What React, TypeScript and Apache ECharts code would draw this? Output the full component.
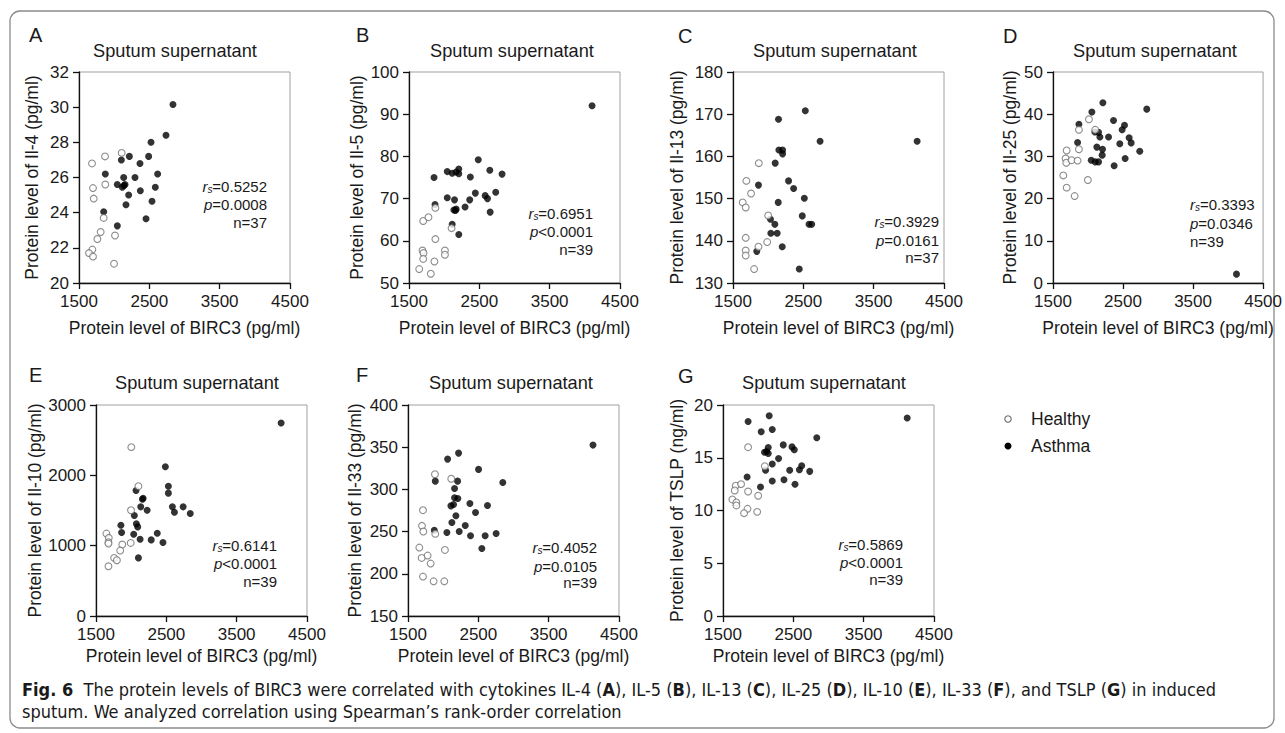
import React, { useEffect, useRef } from 'react';
import * as echarts from 'echarts';

const FONT = 'Arial, Liberation Sans, Helvetica, sans-serif';
const CAPTION_FONT = 'DejaVu Sans Condensed, DejaVu Sans, sans-serif';
const TEXT = '#1a1a1a';

const X_TICKS = [1500, 2500, 3500, 4500];
const X_NAME = 'Protein level of BIRC3 (pg/ml)';

const healthyA: number[][] = [[1685,26.8],[1870,27.2],[2107,27.4],[1874,25.6],[1699,25.4],[1709,24.8],[1851,23.7],[1808,22.9],[1761,22.5],[2012,22.7],[1690,21.9],[1642,21.7],[1699,21.5],[1998,21.1]];
const asthmaA: number[][] = [[2836,30.15],[2737,28.4],[2524,28.0],[2216,27.2],[2490,27.2],[2102,27.0],[2367,26.8],[1874,26.2],[2135,26.0],[2296,26.0],[2618,26.2],[2045,25.6],[2154,25.6],[2116,25.45],[2585,25.45],[2206,25.0],[2372,25.25],[2538,24.65],[2168,24.45],[1851,24.05],[2453,23.65],[2045,23.25],[2140,25.55]];

const healthyB: number[][] = [[1702,64.7],[1777,65.6],[1875,67.8],[2105,63.0],[1875,60.4],[1692,57.7],[1706,57.1],[1702,55.7],[1861,55.1],[2011,57.7],[2011,56.7],[1645,53.3],[1810,52.2]];
const asthmaB: number[][] = [[4103,92.0],[2485,79.2],[2208,77.0],[2208,75.9],[2044,76.4],[2114,76.0],[1856,75.0],[2372,75.1],[2649,76.7],[2823,75.8],[1870,68.6],[2044,70.2],[2147,69.7],[2297,68.0],[2363,69.7],[2443,71.3],[2583,70.7],[2616,70.0],[2733,71.5],[2654,66.8],[2138,67.3],[2171,67.5],[2114,63.9],[2208,61.5],[2170,76.3],[2160,67.2]];

const healthyC: number[][] = [[1867,158.4],[1690,154.2],[1757,151.2],[1638,149.1],[1681,147.9],[2000,146.0],[1681,140.7],[1681,137.7],[1681,136.5],[1862,138.6],[1986,139.7],[1800,133.3]];
const asthmaC: number[][] = [[2528,170.8],[2147,168.8],[2738,163.6],[4118,163.6],[2152,161.5],[2205,161.5],[2205,160.6],[2100,158.4],[1862,153.2],[2290,154.2],[2362,152.4],[2514,150.1],[2143,149.1],[2485,145.9],[2033,145.1],[2095,143.9],[2581,143.9],[2619,143.9],[2038,141.8],[2128,141.8],[2200,138.6],[1838,137.5],[2442,133.3]];

const healthyD: number[][] = [[2013,38.8],[2103,36.3],[1870,36.3],[1695,31.4],[1870,31.7],[1680,29.5],[1690,28.5],[1766,29.1],[1851,29.0],[1647,25.5],[1695,22.6],[1998,24.4],[1809,20.6]];
const asthmaD: number[][] = [[2212,42.7],[2055,40.5],[2839,41.2],[1870,37.6],[2364,38.5],[2521,37.4],[2487,36.3],[2098,35.8],[2150,35.7],[2169,34.6],[2293,34.6],[2587,34.4],[2616,33.2],[2454,33.0],[1851,33.3],[2126,32.2],[2207,31.7],[2739,31.2],[2202,30.3],[2046,29.1],[2103,28.7],[2150,28.7],[2530,29.5],[2373,27.8],[4120,2.1]];

const healthyE: number[][] = [[2002,2401],[2103,1846],[1998,1504],[1648,1172],[1682,1111],[1677,1050],[1677,1030],[1873,1016],[1993,1039],[1844,930],[1758,826],[1797,793],[1677,707]];
const asthmaE: number[][] = [[4132,2743],[2486,2121],[2529,1846],[2529,1747],[2069,1785],[2170,1675],[2136,1552],[2586,1552],[2615,1476],[2739,1552],[2840,1457],[2227,1504],[2045,1429],[1854,1291],[1864,1187],[2074,1310],[2093,1267],[2036,1163],[2371,1177],[2127,1092],[2285,1082],[2452,1044],[2103,826],[2160,1660]];

const healthyF: number[][] = [[1883,318],[2115,312.6],[1713,275.4],[1699,256.8],[1718,250.1],[1888,247.3],[1661,231.1],[1779,221.6],[1694,218.8],[1822,212.1],[2025,228.3],[1713,196.7],[1864,191.1],[2016,191.1]];
const asthmaF: number[][] = [[4130,352.5],[2219,343],[2063,335.9],[2503,323.7],[1888,309.8],[2205,309.8],[2848,308.2],[2162,301.1],[2162,290],[2209,289.2],[2380,283.3],[2110,280.5],[2148,282],[2630,281],[2460,272.6],[2181,268.7],[2124,260.8],[2314,257.2],[1874,251.7],[2053,248.9],[2228,250.1],[2389,245],[2597,245],[2753,247.7],[2550,229.9]];

const healthyG: number[][] = [[1857,16.0],[2095,14.2],[1681,12.35],[1757,12.5],[1667,11.9],[1857,11.8],[2000,11.4],[1633,11.05],[1690,10.76],[1690,10.48],[1848,10.16],[1800,9.75],[1986,9.87]];
const asthmaG: number[][] = [[4119,18.76],[1857,18.44],[2157,18.98],[2043,17.46],[2200,17.68],[2833,16.89],[2357,16.22],[2481,16.03],[2514,15.75],[2143,15.97],[2119,15.59],[2090,15.52],[2143,15.4],[2290,14.92],[2200,14.41],[2619,14.25],[2586,13.87],[2448,13.81],[2105,13.81],[2733,13.71],[1843,13.17],[2367,12.92],[2200,12.79],[2524,12.48],[2033,12.22]];

const panelLetters = ['A', 'B', 'C', 'D', 'E', 'F', 'G'];
const yNames = [
  'Protein level of Il-4 (pg/ml)',
  'Protein level of Il-5 (pg/ml)',
  'Protein level of Il-13 (pg/ml)',
  'Protein level of Il-25 (pg/ml)',
  'Protein level of Il-10 (pg/ml)',
  'Protein level of Il-33 (pg/ml)',
  'Protein level of TSLP (ng/ml)',
];
const yRanges = [[20, 32, 2], [50, 100, 10], [130, 180, 10], [0, 50, 10], [0, 3000, 1000], [150, 400, 50], [0, 20, 5]];
const rsValues = ['0.5252', '0.6951', '0.3929', '0.3393', '0.6141', '0.4052', '0.5869'];
const pValues = ['=0.0008', '<0.0001', '=0.0161', '=0.0346', '<0.0001', '=0.0105', '<0.0001'];
const nValues = ['37', '39', '37', '39', '39', '39', '39'];
const healthySets = [healthyA, healthyB, healthyC, healthyD, healthyE, healthyF, healthyG];
const asthmaSets = [asthmaA, asthmaB, asthmaC, asthmaD, asthmaE, asthmaF, asthmaG];

// layout (pixels)
const layout = [
  { left: 79, top: 72, yGap: 38, xGap: 36, letter: [29, 35], title: [175, 51], stats: { x: 267, y: [186, 204, 222], align: 'right' } },
  { left: 409, top: 72, yGap: 43, xGap: 36, letter: [356, 35], title: [512, 51], stats: { x: 593, y: [213, 231, 249], align: 'right' } },
  { left: 733, top: 72, yGap: 47, xGap: 36, letter: [678, 36], title: [835, 51], stats: { x: 939, y: [221, 240, 257], align: 'right' } },
  { left: 1053, top: 72, yGap: 34, xGap: 36, letter: [1003, 36], title: [1155, 51], stats: { x: 1190, y: [204, 223, 241], align: 'left' } },
  { left: 96, top: 405, yGap: 52, xGap: 31, letter: [29, 375], title: [197, 383], stats: { x: 277, y: [545, 563, 581], align: 'right' } },
  { left: 408, top: 405, yGap: 44, xGap: 31, letter: [356, 375], title: [511, 383], stats: { x: 597, y: [547, 566, 582], align: 'right' } },
  { left: 723, top: 405, yGap: 37, xGap: 31, letter: [678, 376], title: [824, 383], stats: { x: 903, y: [544, 562, 579], align: 'right' } },
];

const plain = (v: number) => String(v);

function buildOption() {
  const grid: any[] = [];
  const xAxis: any[] = [];
  const yAxis: any[] = [];
  const series: any[] = [];
  const graphic: any[] = [];

  graphic.push({
    type: 'rect', z: 0, silent: true,
    shape: { x: 10, y: 11, width: 1264, height: 717, r: 10 },
    style: { fill: 'none', stroke: '#8c8c8c', lineWidth: 1.3 },
  });

  layout.forEach((L, i) => {
    const [yMin, yMax, yInt] = yRanges[i];
    grid.push({
      left: L.left, top: L.top, width: 211, height: 211,
      show: true, borderColor: '#a0a0a0', borderWidth: 1, backgroundColor: 'transparent',
    });
    xAxis.push({
      gridIndex: i, type: 'value', min: 1500, max: 4500,
      name: X_NAME, nameLocation: 'middle', nameGap: L.xGap,
      nameTextStyle: { fontSize: 17.5, color: TEXT, fontFamily: FONT },
      axisLine: { show: true, onZero: false, lineStyle: { color: '#111', width: 1.3 } },
      axisTick: { show: true, length: 6, customValues: X_TICKS, lineStyle: { color: '#111', width: 1.3 } },
      axisLabel: { customValues: X_TICKS, formatter: plain, fontSize: 17, color: TEXT, margin: 10, fontFamily: FONT },
      splitLine: { show: false },
    });
    yAxis.push({
      gridIndex: i, type: 'value', min: yMin, max: yMax, interval: yInt,
      name: yNames[i], nameLocation: 'middle', nameGap: L.yGap, nameRotate: 90,
      nameTextStyle: { fontSize: 17.5, color: TEXT, fontFamily: FONT },
      axisLine: { show: true, onZero: false, lineStyle: { color: '#111', width: 1.3 } },
      axisTick: { show: true, length: 6, lineStyle: { color: '#111', width: 1.3 } },
      axisLabel: { formatter: plain, fontSize: 17, color: TEXT, margin: 10, fontFamily: FONT },
      splitLine: { show: false },
    });
    series.push({
      type: 'scatter', name: 'Asthma', xAxisIndex: i, yAxisIndex: i,
      data: asthmaSets[i], symbol: 'circle', symbolSize: 7,
      itemStyle: { color: '#000' }, silent: true,
    });
    series.push({
      type: 'scatter', name: 'Healthy', xAxisIndex: i, yAxisIndex: i,
      data: healthySets[i], symbol: 'circle', symbolSize: 6.8,
      itemStyle: { color: '#fff', borderColor: '#6f6f6f', borderWidth: 1.1 }, silent: true,
    });

    graphic.push({
      type: 'text', x: L.letter[0], y: L.letter[1], silent: true,
      style: { text: panelLetters[i], fontSize: 20, fontFamily: FONT, fill: TEXT, align: 'left', verticalAlign: 'middle' },
    });
    graphic.push({
      type: 'text', x: L.title[0], y: L.title[1], silent: true,
      style: { text: 'Sputum supernatant', fontSize: 18.2, fontFamily: FONT, fill: TEXT, align: 'center', verticalAlign: 'middle' },
    });
    const rich = {
      i: { fontStyle: 'italic', fontSize: 15, fontFamily: FONT, fill: TEXT, lineHeight: 16 },
      s: { fontStyle: 'italic', fontSize: 10, fontFamily: FONT, fill: TEXT, verticalAlign: 'bottom', lineHeight: 10, padding: [6, 0, 0, 0] },
      t: { fontSize: 15, fontFamily: FONT, fill: TEXT, lineHeight: 16 },
    };
    const lines = [
      '{i|r}{s|s}{t|=' + rsValues[i] + '}',
      '{i|p}{t|' + pValues[i] + '}',
      '{t|n=' + nValues[i] + '}',
    ];
    lines.forEach((t, k) => {
      graphic.push({
        type: 'text', x: L.stats.x, y: L.stats.y[k], silent: true,
        style: { text: t, rich, fontSize: 15, fontFamily: FONT, fill: TEXT, align: L.stats.align, verticalAlign: 'middle' },
      });
    });
  });

  // legend
  graphic.push({ type: 'circle', silent: true, shape: { cx: 1008, cy: 419, r: 3.2 }, style: { fill: '#fff', stroke: '#6f6f6f', lineWidth: 1.1 } });
  graphic.push({ type: 'text', silent: true, x: 1031, y: 419, style: { text: 'Healthy', fontSize: 17.5, fontFamily: FONT, fill: TEXT, verticalAlign: 'middle' } });
  graphic.push({ type: 'circle', silent: true, shape: { cx: 1008, cy: 446, r: 3.5 }, style: { fill: '#000' } });
  graphic.push({ type: 'text', silent: true, x: 1031, y: 446, style: { text: 'Asthma', fontSize: 17.5, fontFamily: FONT, fill: TEXT, verticalAlign: 'middle' } });

  // caption
  const capRich = {
    fb: { fontWeight: 'bold', fontSize: 18, fontFamily: CAPTION_FONT, fill: TEXT },
    b: { fontWeight: 'bold', fontSize: 18, fontFamily: CAPTION_FONT, fill: TEXT },
  };
  graphic.push({
    type: 'text', silent: true, x: 22, y: 689,
    style: {
      text: '{fb|Fig. 6}  The protein levels of BIRC3 were correlated with cytokines IL-4 ({b|A}), IL-5 ({b|B}), IL-13 ({b|C}), IL-25 ({b|D}), IL-10 ({b|E}), IL-33 ({b|F}), and TSLP ({b|G}) in induced',
      rich: capRich, fontSize: 18, fontFamily: CAPTION_FONT, fill: TEXT, verticalAlign: 'middle',
    },
  });
  graphic.push({
    type: 'text', silent: true, x: 22, y: 711,
    style: {
      text: 'sputum. We analyzed correlation using Spearman\u2019s rank-order correlation',
      fontSize: 18, fontFamily: CAPTION_FONT, fill: TEXT, verticalAlign: 'middle',
    },
  });

  return {
    animation: false,
    backgroundColor: '#fff',
    textStyle: { fontFamily: FONT },
    grid, xAxis, yAxis, series, graphic,
  };
}

export default function App() {
  const ref = useRef<HTMLDivElement>(null);
  useEffect(() => {
    document.body.style.margin = '0';
    if (!ref.current) return;
    const chart = echarts.init(ref.current, undefined, { renderer: 'svg' });
    chart.setOption(buildOption() as any);
    return () => chart.dispose();
  }, []);
  return <div ref={ref} style={{ width: 1285, height: 733 }} />;
}
